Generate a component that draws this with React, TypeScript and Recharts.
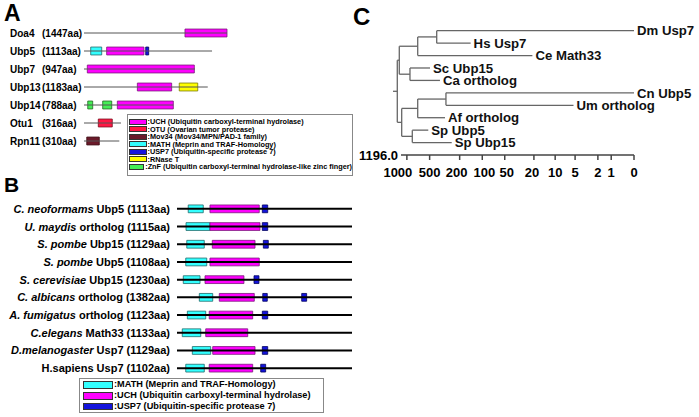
import React from 'react';
import { ComposedChart, XAxis, YAxis, Scatter, ReferenceArea, ReferenceLine, ReferenceDot } from 'recharts';

const FONT = '"Liberation Sans", Arial, Helvetica, sans-serif';

const domainColors: Record<string, { fill: string; stroke: string }> = {
  UCH: { fill: '#ff00ff', stroke: '#7a1a7a' },
  OTU: { fill: '#ff1744', stroke: '#7a0a1a' },
  Mov34: { fill: '#6b1a2a', stroke: '#3a0a12' },
  MATH: { fill: '#33ffff', stroke: '#1f6a6a' },
  USP7: { fill: '#1414dd', stroke: '#00005a' },
  RNase: { fill: '#ffff00', stroke: '#7a7a00' },
  ZnF: { fill: '#44ee55', stroke: '#1f6a1f' },
};

// panel A: yeast DUBs
const yeastNames = ['Doa4', 'Ubp5', 'Ubp7', 'Ubp13', 'Ubp14', 'Otu1', 'Rpn11'];
const yeastLengths = ['(1447aa)', '(1113aa)', '(947aa)', '(1183aa)', '(788aa)', '(316aa)', '(310aa)'];
const yeastBackbone = [1300, 1164, 1009, 1125, 812, 336, 321];
// [row, domain, start, end]
const yeastDomains: [number, string, number, number][] = [
  [0, 'UCH', 918, 1300],
  [1, 'MATH', 61, 161],
  [1, 'UCH', 206, 545],
  [1, 'USP7', 561, 588],
  [2, 'UCH', 30, 1003],
  [3, 'UCH', 485, 797],
  [3, 'RNase', 866, 1034],
  [4, 'ZnF', 34, 79],
  [4, 'ZnF', 170, 252],
  [4, 'UCH', 303, 812],
  [5, 'OTU', 130, 257],
  [6, 'Mov34', 25, 139],
];

const legendA = [
  ['UCH', ':UCH (Ubiquitin carboxyl-terminal hydrolase)'],
  ['OTU', ':OTU (Ovarian tumor protease)'],
  ['Mov34', ':Mov34 (Mov34/MPN/PAD-1 family)'],
  ['MATH', ':MATH (Meprin and TRAF-Homology)'],
  ['USP7', ':USP7 (Ubiquitin-specific protease 7)'],
  ['RNase', ':RNase T'],
  ['ZnF', ':ZnF (Ubiquitin carboxyl-terminal hydrolase-like zinc finger)'],
];

// panel B: Ubp5/Usp7 orthologs
const orthoSpecies = ['C. neoformams', 'U. maydis', 'S. pombe', 'S. pombe', 'S. cerevisiae', 'C. albicans', 'A. fumigatus', 'C.elegans', 'D.melanogaster', ''];
const orthoNames = [' Ubp5 (1113aa)', ' ortholog (1115aa)', ' Ubp15 (1129aa)', ' Ubp5 (1108aa)', ' Ubp15 (1230aa)', ' ortholog (1382aa)', ' ortholog (1123aa)', ' Math33 (1133aa)', ' Usp7 (1129aa)', 'H.sapiens Usp7 (1102aa)'];
const orthoBackbone = [1200, 1200, 1200, 1200, 1200, 1200, 1200, 1200, 1200, 1200];
const orthoDomains: [number, string, number, number][] = [
  [0, 'MATH', 77, 180], [0, 'UCH', 226, 564], [0, 'USP7', 585, 622],
  [1, 'MATH', 62, 226], [1, 'UCH', 226, 569], [1, 'USP7', 585, 622],
  [2, 'MATH', 67, 187], [2, 'UCH', 242, 535], [2, 'USP7', 592, 626],
  [3, 'MATH', 60, 204], [3, 'UCH', 226, 564],
  [4, 'MATH', 43, 158], [4, 'UCH', 192, 459], [4, 'USP7', 528, 562],
  [5, 'MATH', 153, 245], [5, 'UCH', 290, 530], [5, 'USP7', 588, 619], [5, 'USP7', 855, 889],
  [6, 'MATH', 71, 197], [6, 'UCH', 221, 519], [6, 'USP7', 585, 622],
  [7, 'MATH', 36, 163], [7, 'UCH', 197, 485],
  [8, 'MATH', 105, 231], [8, 'UCH', 245, 535], [8, 'USP7', 585, 622],
  [9, 'MATH', 60, 187], [9, 'UCH', 221, 519], [9, 'USP7', 574, 608],
];

const legendB = [
  ['MATH', ':MATH (Meprin and TRAF-Homology)'],
  ['UCH', ':UCH (Ubiquitin carboxyl-terminal hydrolase)'],
  ['USP7', ':USP7 (Ubiquitin-specific protease 7)'],
];

// panel C: tree
const leafNames = ['Dm Usp7', 'Hs Usp7', 'Ce Math33', 'Sc Ubp15', 'Ca ortholog', 'Cn Ubp5', 'Um ortholog', 'Af ortholog', 'Sp Ubp5', 'Sp Ubp15'];
const leafHeights = [0, 143, 21, 494, 365, 0, 5.3, 313, 521, 255];
const nodeChildren = [['L0', 'L1'], ['N0', 'L2'], ['L3', 'L4'], ['N1', 'N2'], ['L5', 'L6'], ['N4', 'L7'], ['L8', 'L9'], ['N5', 'N6'], ['N3', 'N7']];
const nodeHeights = [403, 719, 910, 1260, 304, 719, 848, 1171, 1339];
const rootStub = 1526;
const treeTicks = [1000, 500, 200, 100, 50, 20, 10, 5, 2, 1, 0];
const treeMax = 1196;

const rowOf = (id: string): number => {
  const i = Number(id.slice(1));
  if (id[0] === 'L') return i;
  const [a, b] = nodeChildren[i];
  return (rowOf(a) + rowOf(b)) / 2;
};
const heightOf = (id: string) => (id[0] === 'L' ? leafHeights[Number(id.slice(1))] : nodeHeights[Number(id.slice(1))]);

const treeSegments: { x1: number; y1: number; x2: number; y2: number }[] = [];
nodeChildren.forEach(([a, b], i) => {
  const h = nodeHeights[i];
  treeSegments.push({ x1: h, y1: rowOf(a), x2: h, y2: rowOf(b) });
  [a, b].forEach(c => treeSegments.push({ x1: h, y1: rowOf(c), x2: heightOf(c), y2: rowOf(c) }));
});
const rootId = 'N' + (nodeChildren.length - 1);
treeSegments.push({ x1: rootStub, y1: rowOf(rootId), x2: nodeHeights[nodeChildren.length - 1], y2: rowOf(rootId) });

const yeastPoints = yeastBackbone.flatMap((end, i) => [{ x: 0, y: i }, { x: end, y: i }]);
const orthoPoints = orthoBackbone.flatMap((end, i) => [{ x: 0, y: i }, { x: end, y: i }]);
const leafPoints = leafNames.map((name, i) => ({ x: leafHeights[i], y: i, name }));

const Hidden = () => <g />;

const YeastTick = ({ y, payload }: any) => (
  <g>
    <text x={10} y={y} dominantBaseline="central" fontSize={10} fontWeight={700} fill="#000">{yeastNames[payload.value]}</text>
    <text x={42} y={y} dominantBaseline="central" fontSize={10} fontWeight={700} fill="#000">{yeastLengths[payload.value]}</text>
  </g>
);

const OrthoTick = ({ y, payload }: any) => (
  <text x={170} y={y} textAnchor="end" dominantBaseline="central" fontSize={11} fontWeight={700} fill="#000">
    {orthoSpecies[payload.value] && <tspan fontStyle="italic">{orthoSpecies[payload.value]}</tspan>}
    <tspan>{orthoNames[payload.value]}</tspan>
  </text>
);

// some labels sit a little off their tick in the original
const tickNudge: Record<number, number> = { 1000: -9, 200: -3, 100: 2, 50: 2, 20: -2 };
const TreeTick = ({ x, y, payload }: any) => (
  <text x={x + (tickNudge[payload.value] || 0)} y={y} dy="0.71em" textAnchor="middle" fontSize={13} fontWeight={700} fill="#000">
    {payload.value}
  </text>
);

function Legend({ items, style, rowH, swW, swH, fontSize }: any) {
  return (
    <div style={{ position: 'absolute', boxSizing: 'border-box', border: '1px solid #888', background: '#fff', ...style }}>
      {items.map(([k, t]: string[]) => (
        <div key={k} style={{ display: 'flex', alignItems: 'center', height: rowH, whiteSpace: 'nowrap' }}>
          <div style={{ width: swW, height: swH, boxSizing: 'border-box', background: domainColors[k].fill, border: '0.8px solid #333', marginRight: 1 }} />
          <span style={{ fontSize, fontWeight: 700, lineHeight: 1 }}>{t}</span>
        </div>
      ))}
    </div>
  );
}

export default function App() {
  return (
    <div style={{ position: 'absolute', left: 0, top: 0, width: 699, height: 417, background: '#fff', fontFamily: FONT, overflow: 'hidden' }}>
      {/* A */}
      <div style={{ position: 'absolute', left: 0, top: 0 }}>
        <ComposedChart width={240} height={156} margin={{ top: 24, right: 13, bottom: 6, left: 0 }}>
          <XAxis type="number" dataKey="x" domain={[0, 1300]} allowDataOverflow hide />
          <YAxis type="number" dataKey="y" domain={[-0.5, 6.5]} allowDataOverflow reversed ticks={[0, 1, 2, 3, 4, 5, 6]} interval={0}
            width={84} axisLine={false} tickLine={false} tick={(p: any) => <YeastTick {...p} />} />
          <Scatter data={yeastPoints} shape={<Hidden />} isAnimationActive={false} />
          {yeastBackbone.map((end, i) => (
            <ReferenceLine key={'yb' + i} segment={[{ x: 0, y: i }, { x: end, y: i }]} stroke="#555" strokeWidth={1} ifOverflow="visible" />
          ))}
          {yeastDomains.map(([row, k, s, e], i) => (
            <ReferenceArea key={'yd' + i} x1={s} x2={e} y1={row - 0.22} y2={row + 0.22}
              fill={domainColors[k].fill} fillOpacity={1} stroke={domainColors[k].stroke} strokeWidth={0.8} ifOverflow="visible" />
          ))}
        </ComposedChart>
      </div>
      <Legend items={legendA} rowH={7.5} swW={17.5} swH={6} fontSize={7.3}
        style={{ left: 127, top: 114, width: 226, height: 62, padding: '3.2px 0 0 1px' }} />

      {/* B */}
      <div style={{ position: 'absolute', left: 0, top: 190 }}>
        <ComposedChart width={360} height={192} margin={{ top: 10, right: 8, bottom: 5, left: 0 }}>
          <XAxis type="number" dataKey="x" domain={[0, 1200]} allowDataOverflow hide />
          <YAxis type="number" dataKey="y" domain={[-0.5, 9.5]} allowDataOverflow reversed ticks={[0, 1, 2, 3, 4, 5, 6, 7, 8, 9]} interval={0}
            width={177} axisLine={false} tickLine={false} tick={(p: any) => <OrthoTick {...p} />} />
          <Scatter data={orthoPoints} shape={<Hidden />} isAnimationActive={false} />
          {orthoBackbone.map((end, i) => (
            <ReferenceLine key={'ob' + i} segment={[{ x: 0, y: i }, { x: end, y: i }]} stroke="#000" strokeWidth={2} ifOverflow="visible" />
          ))}
          {orthoDomains.map(([row, k, s, e], i) => (
            <ReferenceArea key={'od' + i} x1={s} x2={e} y1={row - 0.22} y2={row + 0.22}
              fill={domainColors[k].fill} fillOpacity={1} stroke={domainColors[k].stroke} strokeWidth={0.8} ifOverflow="visible" />
          ))}
        </ComposedChart>
      </div>
      <Legend items={legendB} rowH={10.8} swW={30} swH={7.5} fontSize={9.2}
        style={{ left: 79, top: 378, width: 245, height: 35, padding: '0.6px 0 0 3px' }} />

      {/* C */}
      <div style={{ position: 'absolute', left: 350, top: 0 }}>
        <ComposedChart width={349} height={185} margin={{ top: 30.7, right: 65, bottom: 0, left: 51 }}>
          <XAxis type="number" dataKey="x" scale="symlog" domain={[0, treeMax]} reversed allowDataOverflow ticks={treeTicks} interval={0}
            height={30} tickSize={5} tickMargin={8} stroke="#444" strokeWidth={1.5}
            tick={(p: any) => <TreeTick {...p} />} />
          <YAxis type="number" dataKey="y" domain={[0, 10]} allowDataOverflow reversed hide />
          <Scatter data={leafPoints} shape={<Hidden />} isAnimationActive={false} />
          {treeSegments.map((s, i) => (
            <ReferenceLine key={'t' + i} segment={[{ x: s.x1, y: s.y1 }, { x: s.x2, y: s.y2 }]} stroke="#666" strokeWidth={1.3} ifOverflow="visible" />
          ))}
          {leafNames.map((n, i) => (
            <ReferenceDot key={'l' + i} x={leafHeights[i]} y={i} r={0} fill="none" stroke="none" ifOverflow="visible"
              label={{ value: n, position: 'right', offset: 3, fill: '#111', fontSize: 13.2, fontWeight: 700 }} />
          ))}
          <ReferenceDot x={treeMax} y={10} r={0} fill="none" stroke="none" ifOverflow="visible"
            label={{ value: '1196.0', position: 'left', offset: 3, fill: '#000', fontSize: 13, fontWeight: 700 }} />
        </ComposedChart>
      </div>

      <svg width={699} height={417} style={{ position: 'absolute', left: 0, top: 0, pointerEvents: 'none' }}>
        <text x={4} y={21} fontSize={23} fontWeight={700}>A</text>
        <text x={4} y={192} fontSize={21} fontWeight={700}>B</text>
        <text x={353} y={25} fontSize={24} fontWeight={700}>C</text>
      </svg>
    </div>
  );
}
